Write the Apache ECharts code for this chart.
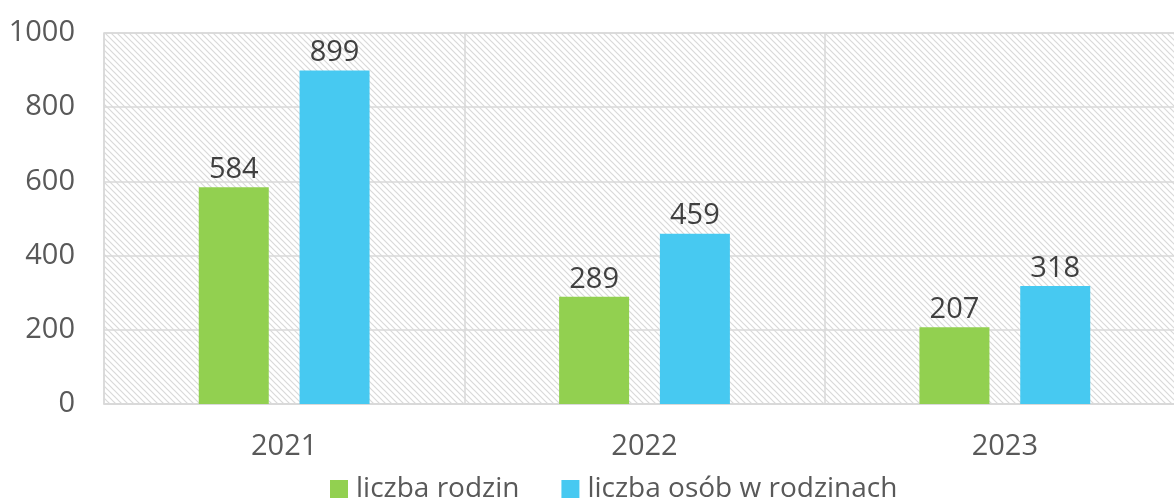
<!DOCTYPE html>
<html>
<head>
<meta charset="utf-8">
<script src="https://cdn.jsdelivr.net/npm/echarts@6/dist/echarts.min.js"></script>
<style>html,body{margin:0;padding:0;background:#fff;}#c{width:1174px;height:502px;}</style>
</head>
<body>
<div id="c"></div>
<script>
var categories = ['2021', '2022', '2023'];
var families = [584, 289, 207];
var persons = [899, 459, 318];
var seriesNames = ['liczba rodzin', 'liczba osób w rodzinach'];

var tile = document.createElement('canvas');
tile.width = 6; tile.height = 6;
var ctx = tile.getContext('2d');
ctx.fillStyle = '#ffffff';
ctx.fillRect(0, 0, 6, 6);
ctx.strokeStyle = '#d9d9d9';
ctx.lineWidth = 1.2;
ctx.beginPath();
ctx.moveTo(-1, -1); ctx.lineTo(7, 7);
ctx.moveTo(-7, -1); ctx.lineTo(1, 7);
ctx.moveTo(5, -1); ctx.lineTo(13, 7);
ctx.stroke();

var font = '"Open Sans", sans-serif';
var chart = echarts.init(document.getElementById('c'), null, {renderer: 'canvas'});
chart.setOption({
  animation: false,
  backgroundColor: '#ffffff',
  grid: {
    left: 104, top: 33, width: 1081, height: 371,
    outerBoundsMode: 'none',
    containLabel: false,
    show: true,
    backgroundColor: {image: tile, repeat: 'repeat'},
    borderColor: '#d9d9d9', borderWidth: 1.5
  },
  legend: {
    left: 330, top: 475, padding: 0,
    itemWidth: 18, itemHeight: 18, itemGap: 42,
    icon: 'rect',
    textStyle: {fontFamily: font, fontSize: 28, color: '#595959', padding: [0, 0, 0, 3]},
    data: seriesNames
  },
  xAxis: {
    type: 'category',
    data: categories,
    axisLine: {lineStyle: {color: '#d9d9d9', width: 1.5}},
    axisTick: {show: false},
    splitLine: {show: true, lineStyle: {color: '#d9d9d9', width: 1.5}},
    axisLabel: {fontFamily: font, fontSize: 29, color: '#595959', margin: 28}
  },
  yAxis: {
    type: 'value',
    min: 0, max: 1000, interval: 200,
    axisLine: {show: false},
    axisTick: {show: false},
    splitLine: {lineStyle: {color: '#d9d9d9', width: 1.5}},
    axisLabel: {fontFamily: font, fontSize: 29, color: '#595959', margin: 29,
      formatter: function (v) { return String(v); }}
  },
  series: [
    {
      name: seriesNames[0], type: 'bar', data: families,
      barWidth: 70, barGap: '44%',
      itemStyle: {color: '#92d050'},
      label: {show: true, position: 'top', distance: 3, fontFamily: font, fontSize: 29, color: '#404040'}
    },
    {
      name: seriesNames[1], type: 'bar', data: persons,
      barWidth: 70, barGap: '44%',
      itemStyle: {color: '#47c9f1'},
      label: {show: true, position: 'top', distance: 3, fontFamily: font, fontSize: 29, color: '#404040'}
    }
  ]
});
</script>
</body>
</html>
